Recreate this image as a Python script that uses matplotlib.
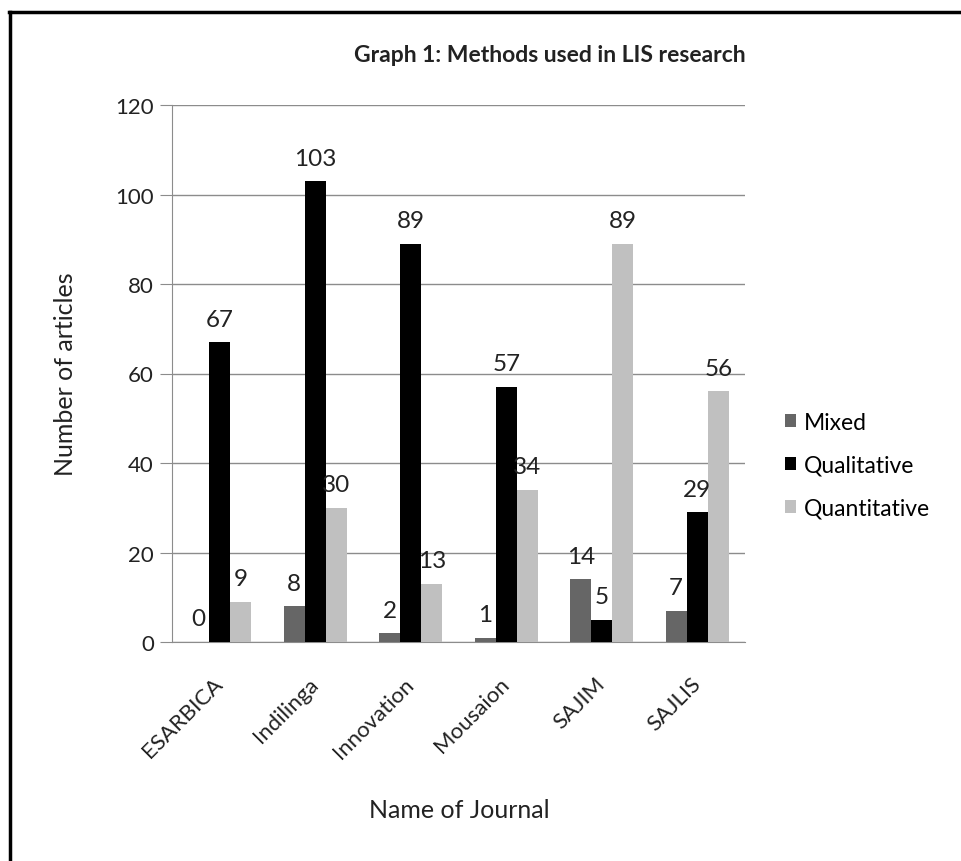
import matplotlib.pyplot as plt
import matplotlib.transforms as mtransforms
import numpy as np
from matplotlib.lines import Line2D

journals = ["ESARBICA", "Indilinga", "Innovation", "Mousaion", "SAJIM", "SAJLIS"]
mixed = [0, 8, 2, 1, 14, 7]
qualitative = [67, 103, 89, 57, 5, 29]
quantitative = [9, 30, 13, 34, 89, 56]
series_names = ["Mixed", "Qualitative", "Quantitative"]
colors = ["#666666", "#000000", "#c0c0c0"]

plt.rcParams['font.family'] = ['Lato', 'DejaVu Sans']

W, H = 961, 862
fig = plt.figure(figsize=(W / 100, H / 100), dpi=100)
ax = fig.add_axes([172 / W, 1 - 643 / H, (745 - 172) / W, (643 - 106) / H])

x = np.arange(len(journals))
bw = 0.22
for i, (vals, name, col) in enumerate(zip([mixed, qualitative, quantitative], series_names, colors)):
    pos = x + (i - 1) * bw
    ax.bar(pos, vals, width=bw, color=col, label=name, zorder=3)
    for p, v in zip(pos, vals):
        ax.annotate(str(v), (p, v), xytext=(0, 9), textcoords="offset points",
                    ha="center", va="bottom", fontsize=17.5, color="#222222", zorder=4)

ax.set_xlim(-0.5, len(journals) - 0.5)
ax.set_ylim(0, 120)
ax.set_yticks(range(0, 121, 20))
ax.yaxis.grid(True, color="#8c8c8c", linewidth=1, zorder=0)
ax.set_xticks(x)
ax.set_xticklabels([])
# rotated category labels, placed like the original (below the axis, ending under each group)
shift = mtransforms.ScaledTranslation(0.0, -0.385, fig.dpi_scale_trans)
for xi, name in zip(x, journals):
    ax.text(xi, 0, name, transform=ax.get_xaxis_transform() + shift, rotation=45,
            ha="right", va="center", rotation_mode="anchor", fontsize=16, color="#222222")
ax.tick_params(axis="y", labelsize=16, length=9, colors="#8c8c8c", labelcolor="#222222", pad=4)
ax.tick_params(axis="x", length=0)
for s in ["top", "right"]:
    ax.spines[s].set_visible(False)
ax.spines["left"].set_color("#8c8c8c")
ax.spines["bottom"].set_color("#8c8c8c")

ax.set_ylabel("Number of articles", fontsize=18, color="#222222")
ax.yaxis.set_label_coords(-0.165, 0.5)
fig.text(459 / W, 1 - 811 / H, "Name of Journal", ha="center", va="center", fontsize=18, color="#222222")
fig.text(550 / W, 1 - 55 / H, "Graph 1: Methods used in LIS research", ha="center", va="center",
         fontsize=16.5, fontweight="bold", color="#222222")

ax.legend(loc="center left", bbox_to_anchor=(764 / W, 1 - 466 / H), bbox_transform=fig.transFigure,
          frameon=False, fontsize=16.5, handlelength=0.5, handleheight=0.5, handletextpad=0.35,
          labelspacing=0.95)

# frame: only top and left edges
fig.add_artist(Line2D([9 / W, 1], [1 - 12.5 / H] * 2, color="black", linewidth=2.5, transform=fig.transFigure))
fig.add_artist(Line2D([9.5 / W] * 2, [0, 1 - 12.5 / H], color="black", linewidth=2.5, transform=fig.transFigure))

fig.savefig("out.png", dpi=100)
